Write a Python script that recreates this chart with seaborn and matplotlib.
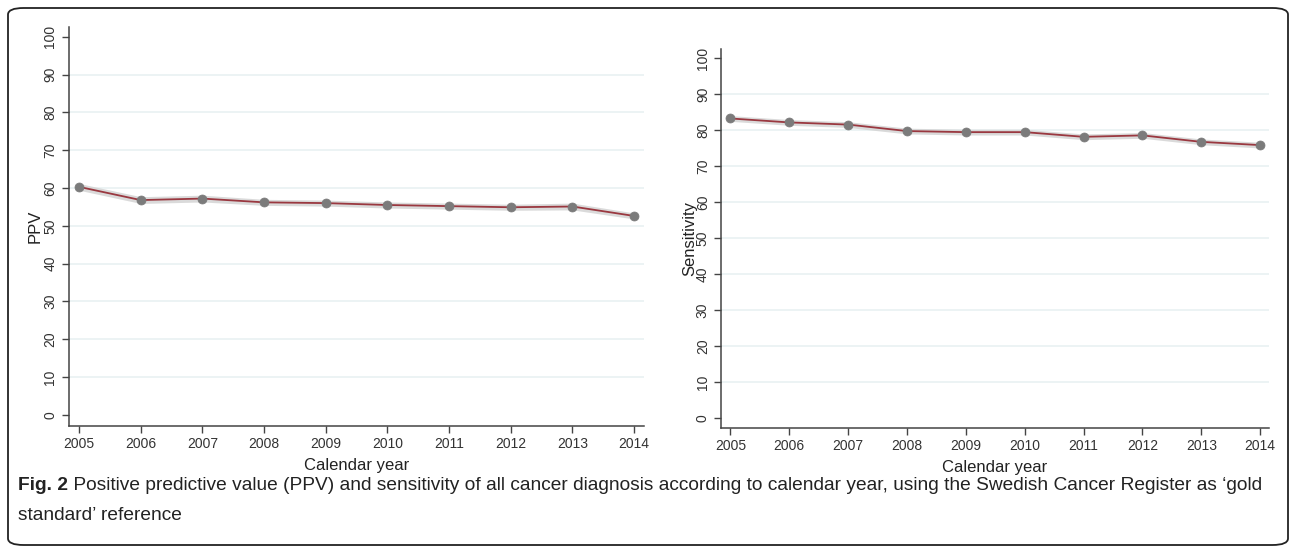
import matplotlib
matplotlib.use("Agg")
from matplotlib import pyplot as plt
from matplotlib.patches import FancyBboxPatch
import seaborn as sb

years = [2005, 2006, 2007, 2008, 2009, 2010, 2011, 2012, 2013, 2014]

ppv = [60.3, 56.8, 57.2, 56.2, 56.0, 55.5, 55.2, 54.9, 55.1, 52.6]
ppv_lo = [59.4, 55.9, 56.3, 55.4, 55.2, 54.7, 54.4, 54.1, 54.2, 51.8]
ppv_hi = [61.2, 57.7, 58.1, 57.0, 56.8, 56.3, 56.0, 55.7, 56.0, 53.4]

sens = [83.2, 82.1, 81.5, 79.7, 79.4, 79.4, 78.1, 78.5, 76.7, 75.8]
sens_lo = [82.4, 81.3, 80.7, 78.9, 78.6, 78.6, 77.3, 77.7, 75.9, 75.0]
sens_hi = [84.0, 82.9, 82.3, 80.5, 80.2, 80.2, 78.9, 79.3, 77.5, 76.6]

y_ticks = [0, 10, 20, 30, 40, 50, 60, 70, 80, 90, 100]
grid_vals = [10, 20, 30, 40, 50, 60, 70, 80, 90]

caption_bold = "Fig. 2"
caption_text = (" Positive predictive value (PPV) and sensitivity of all cancer diagnosis according to "
                "calendar year, using the Swedish Cancer Register as \u2018gold")
caption_line2 = "standard\u2019 reference"

sb.set_style("white")
plt.rcParams['font.family'] = ['Liberation Sans', 'DejaVu Sans']

W, H = 1295, 548
fig = plt.figure(figsize=(W / 100, H / 100), dpi=100)

LINE_C = "#9a3840"
DOT_C = "#7b7b7b"
BAND_C = "#d4d4d4"
GRID_C = "#e9f1f2"
AX_C = "#444444"


def _panel(rect, values, lo, hi, ylabel, xlim, ylim, label_x):
    ax = fig.add_axes(rect)
    ax.hlines(grid_vals, xlim[0], xlim[1], colors=GRID_C, lw=1.2, zorder=0)
    ax.fill_between(years, lo, hi, color=BAND_C, alpha=0.85, lw=0, zorder=1)
    sb.lineplot(x=years, y=values, ax=ax, color=LINE_C, lw=1.3, zorder=2)
    sb.scatterplot(x=years, y=values, ax=ax, color=DOT_C, s=42, edgecolor=DOT_C, zorder=3)
    ax.set_xlim(*xlim)
    ax.set_ylim(*ylim)
    ax.set_xticks(years)
    ax.set_yticks(y_ticks)
    ax.tick_params(axis='both', direction='out', length=5, width=1, color=AX_C,
                   labelsize=10, labelcolor="#333333", pad=3, left=True, bottom=True)
    for lab in ax.get_yticklabels():
        lab.set_rotation(90)
        lab.set_va('center')
    for s in ['top', 'right']:
        ax.spines[s].set_visible(False)
    for s in ['left', 'bottom']:
        ax.spines[s].set_color(AX_C)
        ax.spines[s].set_linewidth(1.1)
    ax.set_xlabel("Calendar year", fontsize=12, color="#222222", labelpad=5)
    ax.set_ylabel(ylabel, fontsize=12, color="#222222")
    ax.yaxis.set_label_coords(label_x, 0.5)
    return ax


def fx(px):
    return px / W


def fy(py):
    return 1 - py / H


# left panel: PPV
l, r, t, b = 68.6, 644, 27, 425.7
_panel([fx(l), fy(b), fx(r - l), (b - t) / H], ppv, ppv_lo, ppv_hi, "PPV",
       (2004.83, 2014.16), (-2.9, 102.6), (43 - l) / (r - l))

# right panel: sensitivity
l, r, t, b = 721, 1269, 49, 428
_panel([fx(l), fy(b), fx(r - l), (b - t) / H], sens, sens_lo, sens_hi, "Sensitivity",
       (2004.84, 2014.15), (-2.8, 102.5), (697 - l) / (r - l))

# outer frame
frame = FancyBboxPatch((fx(8), fy(545)), fx(1280), (545 - 8) / H,
                       boxstyle="round,pad=0,rounding_size=0.012",
                       transform=fig.transFigure, fill=False, ec="#222222", lw=1.3)
fig.patches.append(frame)

# caption
cap_size = 13.75
t1 = fig.text(fx(18), fy(486), caption_bold, fontsize=cap_size, fontweight='bold',
              va='center', ha='left', color="#222222")
fig.canvas.draw()
bb = t1.get_window_extent()
fig.text(bb.x1 / W, fy(486), caption_text, fontsize=cap_size,
         va='center', ha='left', color="#222222")
fig.text(fx(18), fy(515), caption_line2, fontsize=cap_size,
         va='center', ha='left', color="#222222")

plt.savefig("out.png", dpi=100)
